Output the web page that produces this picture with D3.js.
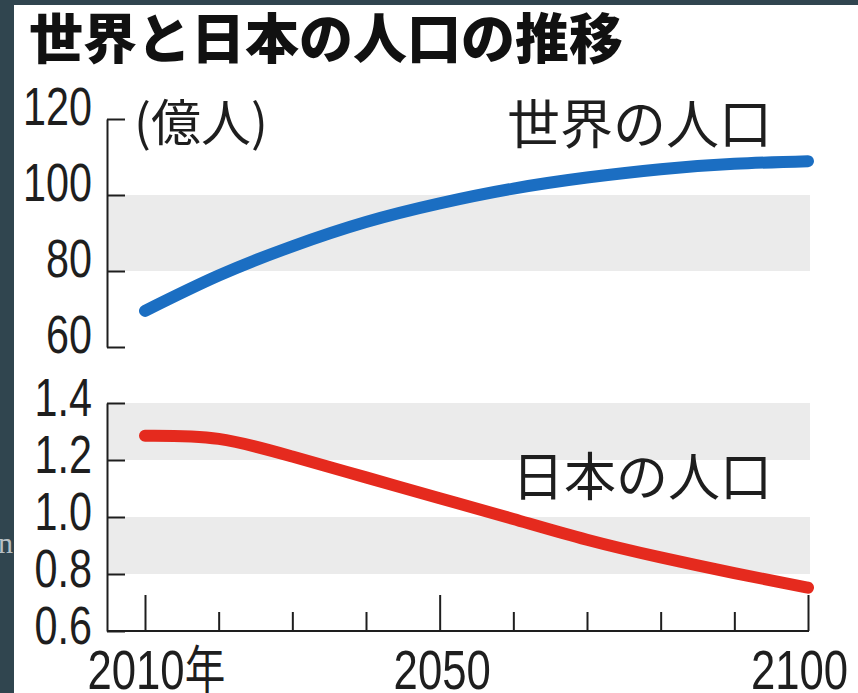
<!DOCTYPE html>
<html><head><meta charset="utf-8">
<script src="https://cdn.jsdelivr.net/npm/d3@7"></script>
<style>body{margin:0;background:#30454f}svg{display:block}</style>
</head><body><svg id="c" width="858" height="693"></svg>
<script>
// ---- data ----
const years = [2010, 2020, 2030, 2040, 2050, 2060, 2070, 2080, 2090, 2100];
const world = [69.5, 78.8, 86.5, 92.9, 97.8, 101.7, 104.6, 106.8, 108.2, 108.9];
const japan = [1.285, 1.274, 1.212, 1.139, 1.066, 0.993, 0.920, 0.858, 0.803, 0.752];
const worldTicks = [60, 80, 100, 120];
const japanTicks = [0.6, 0.8, 1.0, 1.2, 1.4];
const worldBands = [[80, 100]];
const japanBands = [[0.8, 1.0], [1.2, 1.4]];
const majorYears = [2010, 2050, 2100];
const title = "世界と日本の人口の推移";
const unitLabel = "(億人)";
const worldName = "世界の人口";
const japanName = "日本の人口";
const yearSuffix = "年";

// ---- setup ----
const NUM = "'Liberation Sans', Arial, sans-serif";
const CJK = "'Noto Sans CJK JP', 'Noto Sans CJK SC', sans-serif";
const SX = 0.78;
const INK = "#1e1e1e";
const svg = d3.select("#c");
svg.append("rect").attr("width", 858).attr("height", 693).attr("fill", "#30454f");
svg.append("text").attr("x", -2).attr("y", 553).attr("font-family", "'Liberation Serif', serif")
  .attr("font-size", 30).attr("fill", "#b8c0c5").text("n");
svg.append("rect").attr("x", 14).attr("y", 5).attr("width", 844).attr("height", 688).attr("fill", "#fff");

const axisX = 107;
const x = d3.scaleLinear().domain([2010, 2100]).range([145, 808]);
const yW = d3.scaleLinear().domain([60, 120]).range([347, 119]);
const yJ = d3.scaleLinear().domain([0.6, 1.4]).range([631, 403]);

// bands
function bands(list, y) {
  svg.append("g").selectAll("rect").data(list).join("rect")
    .attr("x", axisX + 1).attr("width", x(2100) + 2 - axisX - 1)
    .attr("y", d => y(d[1])).attr("height", d => y(d[0]) - y(d[1]))
    .attr("fill", "#ebebeb");
}
bands(worldBands, yW);
bands(japanBands, yJ);

// title
svg.append("text").attr("x", 29).attr("y", 59).attr("font-family", CJK)
  .attr("font-weight", 900).attr("font-size", 54).attr("fill", "#111").text(title);

// y axes
function yAxis(scale, ticks, fmt, baseOff) {
  const g = svg.append("g").attr("transform", `translate(${axisX},0)`)
    .call(d3.axisLeft(scale).tickValues(ticks).tickSizeInner(-18).tickSizeOuter(0)
      .tickPadding(15).tickFormat(fmt));
  g.select(".domain").attr("stroke", INK).attr("stroke-width", 2);
  g.selectAll(".tick line").attr("stroke", INK).attr("stroke-width", 2);
  g.selectAll(".tick text").attr("font-family", NUM).attr("font-size", 53).attr("fill", INK)
    .attr("text-anchor", "end").attr("x", -15 / SX).attr("dy", 0).attr("y", baseOff)
    .attr("transform", `scale(${SX},1)`);
  return g;
}
yAxis(yW, worldTicks, d3.format("d"), 5);
yAxis(yJ, japanTicks, d3.format(".1f"), 12);

// x axis
const gx = svg.append("g").attr("transform", `translate(0,${yJ(0.6)})`)
  .call(d3.axisBottom(x).tickValues(years).tickSizeInner(-19).tickSizeOuter(0)
    .tickFormat(d => majorYears.includes(d) ? String(d) : ""));
gx.select(".domain").attr("d", `M${axisX},0H${x(2100) + 1}`).attr("stroke", INK).attr("stroke-width", 2);
gx.selectAll(".tick line").attr("stroke", INK).attr("stroke-width", 2)
  .attr("y2", d => majorYears.includes(d) ? -36 : -19);
gx.selectAll(".tick text").attr("font-family", NUM).attr("font-size", 56).attr("fill", INK)
  .attr("dy", 0).attr("y", 58).attr("transform", `scale(${SX},1)`)
  .each(function (d, i) {
    const t = d3.select(this);
    if (d === years[0]) {
      t.attr("text-anchor", "start").attr("x", -58 / SX);
      t.append("tspan").attr("font-family", CJK).attr("font-size", 52).text(yearSuffix);
    } else if (d === years[years.length - 1]) {
      t.attr("text-anchor", "middle").attr("x", -9 / SX);
    } else {
      t.attr("text-anchor", "middle").attr("x", 2 / SX);
    }
  });

// unit label
svg.append("text").attr("x", 134).attr("y", 141).attr("font-family", CJK)
  .attr("font-size", 50).attr("fill", INK).text(unitLabel);

// lines
const lineW = d3.line().x((d, i) => x(years[i])).y(d => yW(d)).curve(d3.curveNatural);
const lineJ = d3.line().x((d, i) => x(years[i])).y(d => yJ(d)).curve(d3.curveNatural);
svg.append("path").datum(world).attr("d", lineW).attr("fill", "none")
  .attr("stroke", "#1b6ec2").attr("stroke-width", 12).attr("stroke-linecap", "round");
svg.append("path").datum(japan).attr("d", lineJ).attr("fill", "none")
  .attr("stroke", "#e52a1e").attr("stroke-width", 12).attr("stroke-linecap", "round");

// series labels
svg.append("text").attr("x", 772).attr("y", 144).attr("text-anchor", "end").attr("font-family", CJK)
  .attr("font-size", 53).attr("fill", INK).text(worldName);
svg.append("text").attr("x", 772).attr("y", 496).attr("text-anchor", "end").attr("font-family", CJK)
  .attr("font-size", 52).attr("fill", INK).text(japanName);
</script></body></html>
